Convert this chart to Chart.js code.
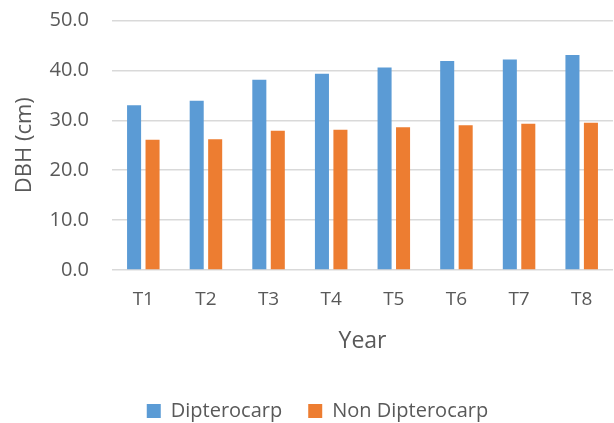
<!DOCTYPE html>
<html>
<head>
<meta charset="utf-8">
<script src="https://cdn.jsdelivr.net/npm/chart.js@4.4.1/dist/chart.umd.min.js"></script>
<style>
  html, body { margin: 0; padding: 0; background: #fff; }
  #wrap { width: 614px; height: 423px; position: relative; }
</style>
</head>
<body>
<div id="wrap"><canvas id="dbhChart"></canvas></div>
<script>
// datos del gráfico
const categorias = ['T1', 'T2', 'T3', 'T4', 'T5', 'T6', 'T7', 'T8'];
const dipterocarp = [33.0, 33.9, 38.1, 39.3, 40.6, 41.9, 42.2, 43.1];
const nonDipterocarp = [26.1, 26.2, 27.9, 28.1, 28.6, 29.0, 29.3, 29.5];
const ticksY = [0, 10, 20, 30, 40, 50];

const textColor = '#595959';
const fontFamily = "'Open Sans', 'Liberation Sans', sans-serif";

const ctx = document.getElementById('dbhChart').getContext('2d');

new Chart(ctx, {
    type: 'bar',
    data: {
        labels: categorias,
        datasets: [
            {
                label: 'Dipterocarp',
                data: dipterocarp,
                backgroundColor: '#5B9BD5',
                categoryPercentage: 0.59,
                barPercentage: 0.76
            },
            {
                label: 'Non Dipterocarp',
                data: nonDipterocarp,
                backgroundColor: '#ED7D31',
                categoryPercentage: 0.59,
                barPercentage: 0.76
            }
        ]
    },
    options: {
        responsive: true,
        maintainAspectRatio: false,
        animation: false,
        layout: {
            padding: { top: 0, right: 1, bottom: -8, left: 22 }
        },
        scales: {
            x: {
                grid: { display: false, drawTicks: false },
                border: { display: false },
                ticks: {
                    color: textColor,
                    padding: 20.3,
                    font: { family: fontFamily, size: 19, lineHeight: 1 }
                },
                title: {
                    display: true,
                    text: 'Year',
                    color: textColor,
                    padding: { top: 0, bottom: 22.5 },
                    font: { family: fontFamily, size: 23, lineHeight: 1 }
                }
            },
            y: {
                min: 0,
                max: 50,
                afterBuildTicks: (scale) => {
                    scale.ticks = ticksY.map(v => ({ value: v }));
                },
                afterFit: (scale) => {
                    // ancho fijo y margen superior como en el original
                    scale.width = 90;
                    scale.paddingTop = 20.5;
                    scale.paddingBottom = 0;
                },
                grid: {
                    color: '#D9D9D9',
                    lineWidth: 1.5,
                    drawTicks: false
                },
                border: { display: false },
                ticks: {
                    color: textColor,
                    padding: 23,
                    font: { family: fontFamily, size: 20 },
                    callback: (v) => Number(v).toFixed(1)
                },
                title: {
                    display: true,
                    text: 'DBH (cm)',
                    color: textColor,
                    padding: -10,
                    font: { family: fontFamily, size: 22 }
                }
            }
        },
        plugins: {
            legend: {
                position: 'bottom',
                labels: {
                    color: textColor,
                    boxWidth: 14,
                    boxHeight: 14,
                    padding: 26,
                    font: { family: fontFamily, size: 20 }
                }
            },
            tooltip: { enabled: false }
        }
    }
});
</script>
</body>
</html>
